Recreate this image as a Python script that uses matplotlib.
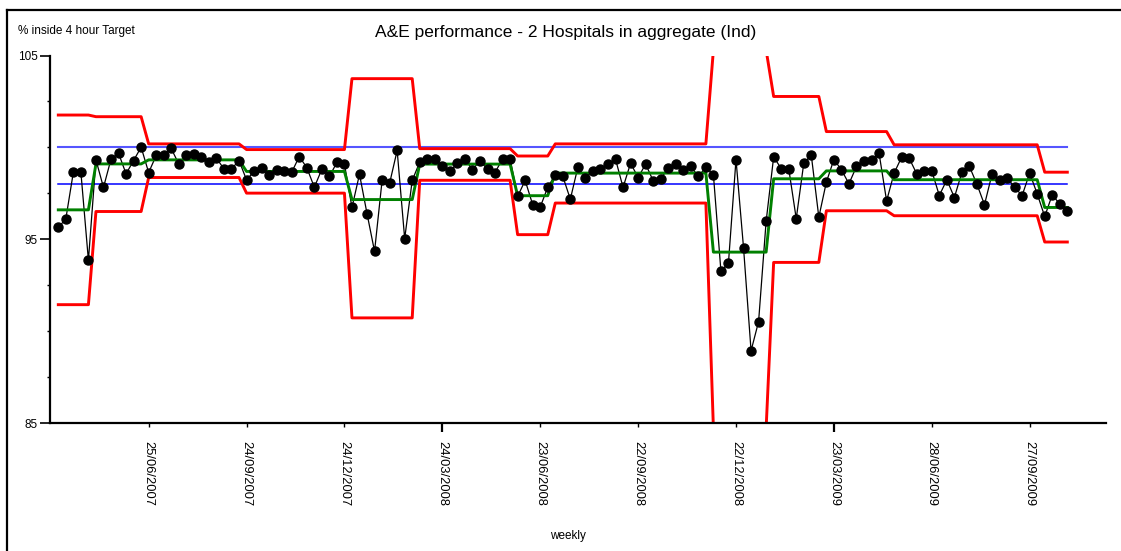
import matplotlib
matplotlib.use("Agg")
import matplotlib.pyplot as plt
from matplotlib.lines import Line2D
import numpy as np

plt.rcParams['font.family'] = ['Liberation Sans', 'DejaVu Sans']

# ---- data ----
weekly_pct = [
    95.64, 96.11, 98.65, 98.65, 93.85, 99.32, 97.82, 99.36, 99.68, 98.56,
    99.28, 100.01, 98.63, 99.56, 99.56, 99.94, 99.09, 99.56, 99.65, 99.47,
    99.18, 99.41, 98.83, 98.83, 99.28, 98.23, 98.70, 98.87, 98.49, 98.78,
    98.74, 98.65, 99.50, 98.90, 97.83, 98.81, 98.42, 99.18, 99.09, 96.73,
    98.54, 96.39, 94.34, 98.20, 98.05, 99.83, 95.03, 98.20, 99.20, 99.38,
    99.38, 98.96, 98.69, 99.14, 99.38, 98.78, 99.28, 98.81, 98.63, 99.38,
    99.38, 97.33, 98.20, 96.88, 96.75, 97.83, 98.51, 98.42, 97.18, 98.92,
    98.36, 98.74, 98.81, 99.07, 99.36, 97.82, 99.14, 98.36, 99.09, 98.18,
    98.29, 98.87, 99.09, 98.78, 98.96, 98.42, 98.92, 98.51, 93.25, 93.72,
    99.34, 94.54, 88.93, 90.52, 95.97, 99.48, 98.85, 98.85, 96.12, 99.14,
    99.57, 96.20, 98.11, 99.34, 98.78, 98.02, 98.96, 99.26, 99.32, 99.68,
    97.09, 98.60, 99.47, 99.41, 98.56, 98.72, 98.72, 97.38, 98.24, 97.27,
    98.65, 98.96, 97.99, 96.88, 98.54, 98.24, 98.36, 97.82, 97.38, 98.60,
    97.47, 96.24, 97.42, 96.91, 96.55,
]

# control-chart segments: number of weeks, mean, upper limit, lower limit
seg_weeks = [5, 7, 13, 14, 9, 13, 5, 21, 8, 7, 9, 20, 4]
seg_mean  = [96.60, 99.10, 99.32, 98.69, 97.16, 99.09, 97.37, 98.60, 94.30, 98.29, 98.72, 98.24, 96.73]
seg_ucl   = [101.76, 101.67, 100.19, 99.88, 103.74, 99.93, 99.53, 100.19, 105.3, 102.77, 100.86, 100.14, 98.65]
seg_lcl   = [91.44, 96.51, 98.36, 97.51, 90.72, 98.21, 95.25, 96.97, 84.7, 93.74, 96.55, 96.28, 94.85]

target_lines = [100, 98]

tick_labels = ["25/06/2007", "24/09/2007", "24/12/2007", "24/03/2008", "23/06/2008",
               "22/09/2008", "22/12/2008", "23/03/2009", "28/06/2009", "27/09/2009"]
tick_week_index = [12, 25, 38, 51, 64, 77, 90, 103, 116, 129]
long_tick_labels = ["24/03/2008", "23/03/2009"]

# ---- build per-week limit series ----
mean_s = np.repeat(seg_mean, seg_weeks)
ucl_s = np.repeat(seg_ucl, seg_weeks)
lcl_s = np.repeat(seg_lcl, seg_weeks)
x = np.arange(len(weekly_pct))

W, H = 1121, 551
fig = plt.figure(figsize=(W / 100, H / 100), dpi=100)
ax = fig.add_axes([50 / W, 1 - 423 / H, (1105.7 - 50) / W, (423 - 55.5) / H])

# target lines
ax.plot([x[0], x[-1]], [target_lines[0]] * 2, color='#5555ff', lw=1.5, zorder=1)
ax.plot([x[0], x[-1]], [target_lines[1]] * 2, color='#0000ff', lw=1.1, zorder=1)

# control limits
ax.plot(x, ucl_s, color='#ff0000', lw=2.1, zorder=2)
ax.plot(x, lcl_s, color='#ff0000', lw=2.1, zorder=2)

# data line
ax.plot(x, weekly_pct, color='black', lw=0.9, zorder=3)
# mean
ax.plot(x, mean_s, color='#008000', lw=2.1, zorder=4)
# points
ax.plot(x, weekly_pct, linestyle='none', marker='o', markersize=6.5,
        markerfacecolor='black', markeredgecolor='black', zorder=5)

x_left = (50 - 58.3) / 7.53
x_right = (1105.7 - 58.3) / 7.53
ax.set_xlim(x_left, x_right)
ax.set_ylim(85, 105)

for s in ['top', 'right']:
    ax.spines[s].set_visible(False)
for s in ['left', 'bottom']:
    ax.spines[s].set_linewidth(1.6)
    ax.spines[s].set_color('black')

ax.set_yticks([85, 95, 105])
ax.set_yticks([87.5, 90, 92.5, 97.5, 100, 102.5], minor=True)
ax.set_yticklabels(['85', '95', '105'], fontsize=8.5)
ax.tick_params(axis='y', which='major', length=7, width=1.2, pad=1.8, direction='out')
ax.tick_params(axis='y', which='minor', length=2.5, width=1.0, direction='out')

ax.set_xticks(tick_week_index)
ax.set_xticklabels(tick_labels, rotation=270, fontsize=9.3, ha='center', va='top')
ax.tick_params(axis='x', which='major', length=3.2, width=1.0, pad=9.5, direction='out')
for t, lab in zip(ax.xaxis.get_major_ticks(), tick_labels):
    if lab in long_tick_labels:
        t.tick1line.set_markersize(6.3)
        t.tick1line.set_markeredgewidth(1.6)

# texts
fig.text(566 / W, 1 - 33 / H, "A&E performance - 2 Hospitals in aggregate (Ind)",
         ha='center', va='center', fontsize=12.5)
fig.text(18 / W, 1 - 31 / H, "% inside 4 hour Target", ha='left', va='center', fontsize=8.5)
fig.text(568 / W, 1 - 536 / H, "weekly", ha='center', va='center', fontsize=8.5)

# outer frame (top and left)
fig.add_artist(Line2D([7 / W, 7 / W], [0, 1 - 10 / H], transform=fig.transFigure,
                      color='black', lw=1.6))
fig.add_artist(Line2D([7 / W, 1], [1 - 10 / H, 1 - 10 / H], transform=fig.transFigure,
                      color='black', lw=1.6))

fig.savefig("out.png", dpi=100)
